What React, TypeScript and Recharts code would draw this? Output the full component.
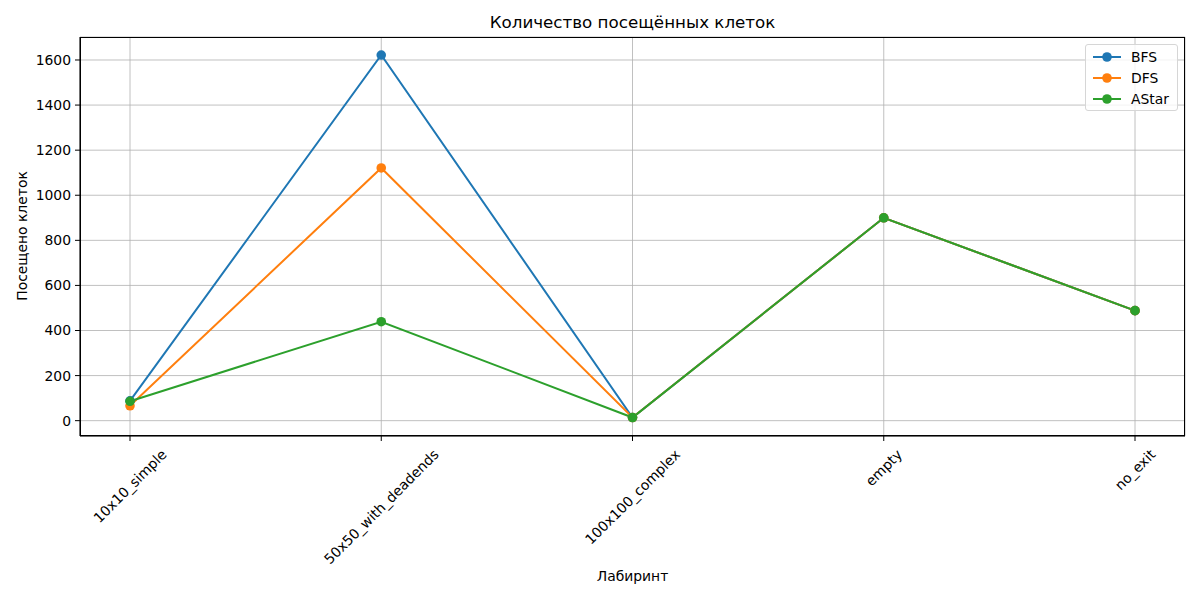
import { LineChart, Line, XAxis, YAxis, CartesianGrid } from "recharts";

const CATEGORIES = ["10x10_simple", "50x50_with_deadends", "100x100_complex", "empty", "no_exit"];
const BFS = [88, 1622, 14, 900, 488];
const DFS = [66, 1121, 14, 900, 488];
const ASTAR = [86, 439, 14, 900, 488];
const Y_TICKS = [0, 200, 400, 600, 800, 1000, 1200, 1400, 1600];

const SERIES = [
  { key: "BFS", color: "#1f77b4" },
  { key: "DFS", color: "#ff7f0e" },
  { key: "AStar", color: "#2ca02c" },
];

const data = CATEGORIES.map((name, i) => ({
  name,
  BFS: BFS[i],
  DFS: DFS[i],
  AStar: ASTAR[i],
}));

const FONT = "'DejaVu Sans', sans-serif";
const TICK_SIZE = 13.9;
const DOT_R = 4.8;

// plot box, same as matplotlib axes
const PLOT = { left: 80, top: 37, width: 1105, height: 399 };

let ctx: CanvasRenderingContext2D | null = null;
function measure(text: string) {
  if (!ctx) {
    ctx = document.createElement("canvas").getContext("2d");
  }
  if (!ctx) return text.length * 8;
  ctx.font = `${TICK_SIZE}px 'DejaVu Sans'`;
  return ctx.measureText(text).width;
}

// matplotlib-style rotation=45, ha=center
function RotatedTick(props: any) {
  const { x, y, payload } = props;
  const L = measure(payload.value);
  const h = 14;
  const cy = y + 1 + (L + h) * 0.3536;
  return (
    <text
      x={x}
      y={cy}
      textAnchor="middle"
      dominantBaseline="central"
      fontFamily={FONT}
      fontSize={TICK_SIZE}
      fill="#000"
      transform={`rotate(-45, ${x}, ${cy})`}
    >
      {payload.value}
    </text>
  );
}

function LegendBox() {
  return (
    <div
      style={{
        position: "absolute",
        top: 44,
        right: 22,
        border: "1px solid #d6d6d6",
        borderRadius: 3,
        background: "rgba(255,255,255,0.8)",
        padding: "1px 8px 1px 6px",
        fontFamily: FONT,
        fontSize: TICK_SIZE,
      }}
    >
      {SERIES.map((s) => (
        <div key={s.key} style={{ display: "flex", alignItems: "center", height: 21 }}>
          <svg width={30} height={12} style={{ marginRight: 9 }}>
            <line x1={1} x2={29} y1={6} y2={6} stroke={s.color} strokeWidth={2} />
            <circle cx={15} cy={6} r={DOT_R} fill={s.color} />
          </svg>
          <span>{s.key}</span>
        </div>
      ))}
    </div>
  );
}

export default function App() {
  return (
    <div style={{ position: "absolute", left: 0, top: 0, width: 1200, height: 600, background: "#fff" }}>
      <div
        style={{
          position: "absolute",
          left: PLOT.left,
          width: PLOT.width,
          top: 12,
          textAlign: "center",
          fontFamily: FONT,
          fontSize: 16.7,
        }}
      >
        Количество посещённых клеток
      </div>
      <div
        style={{
          position: "absolute",
          left: PLOT.left,
          width: PLOT.width,
          top: 568,
          textAlign: "center",
          fontFamily: FONT,
          fontSize: TICK_SIZE,
        }}
      >
        Лабиринт
      </div>
      <div
        style={{
          position: "absolute",
          left: 22,
          top: 236,
          transform: "translate(-50%, -50%) rotate(-90deg)",
          whiteSpace: "nowrap",
          fontFamily: FONT,
          fontSize: TICK_SIZE,
        }}
      >
        Посещено клеток
      </div>
      <LineChart
        width={1200}
        height={600}
        data={data}
        margin={{ top: PLOT.top, right: 1200 - PLOT.left - PLOT.width, bottom: 0, left: 0 }}
      >
        <CartesianGrid stroke="#b0b0b0" strokeWidth={0.8} />
        <XAxis
          dataKey="name"
          height={600 - PLOT.top - PLOT.height}
          padding={{ left: 50, right: 50 }}
          tick={<RotatedTick />}
          tickSize={5}
          tickMargin={5}
          interval={0}
          axisLine={{ stroke: "#000", strokeWidth: 1 }}
          tickLine={{ stroke: "#000" }}
        />
        <YAxis
          width={PLOT.left}
          domain={[-68, 1702]}
          ticks={Y_TICKS}
          type="number"
          tickSize={5}
          tickMargin={4}
          tick={{ fill: "#000", fontFamily: FONT, fontSize: TICK_SIZE }}
          axisLine={{ stroke: "#000", strokeWidth: 1 }}
          tickLine={{ stroke: "#000" }}
          allowDataOverflow
        />
        {SERIES.map((s) => (
          <Line
            key={s.key}
            type="linear"
            dataKey={s.key}
            stroke={s.color}
            strokeWidth={2}
            dot={{ r: DOT_R, fill: s.color, stroke: s.color, strokeWidth: 0 }}
            activeDot={false}
            isAnimationActive={false}
          />
        ))}
      </LineChart>
      <div
        style={{
          position: "absolute",
          left: PLOT.left,
          top: PLOT.top,
          width: PLOT.width,
          height: PLOT.height,
          boxSizing: "border-box",
          border: "1px solid #000",
          pointerEvents: "none",
        }}
      />
      <LegendBox />
    </div>
  );
}
